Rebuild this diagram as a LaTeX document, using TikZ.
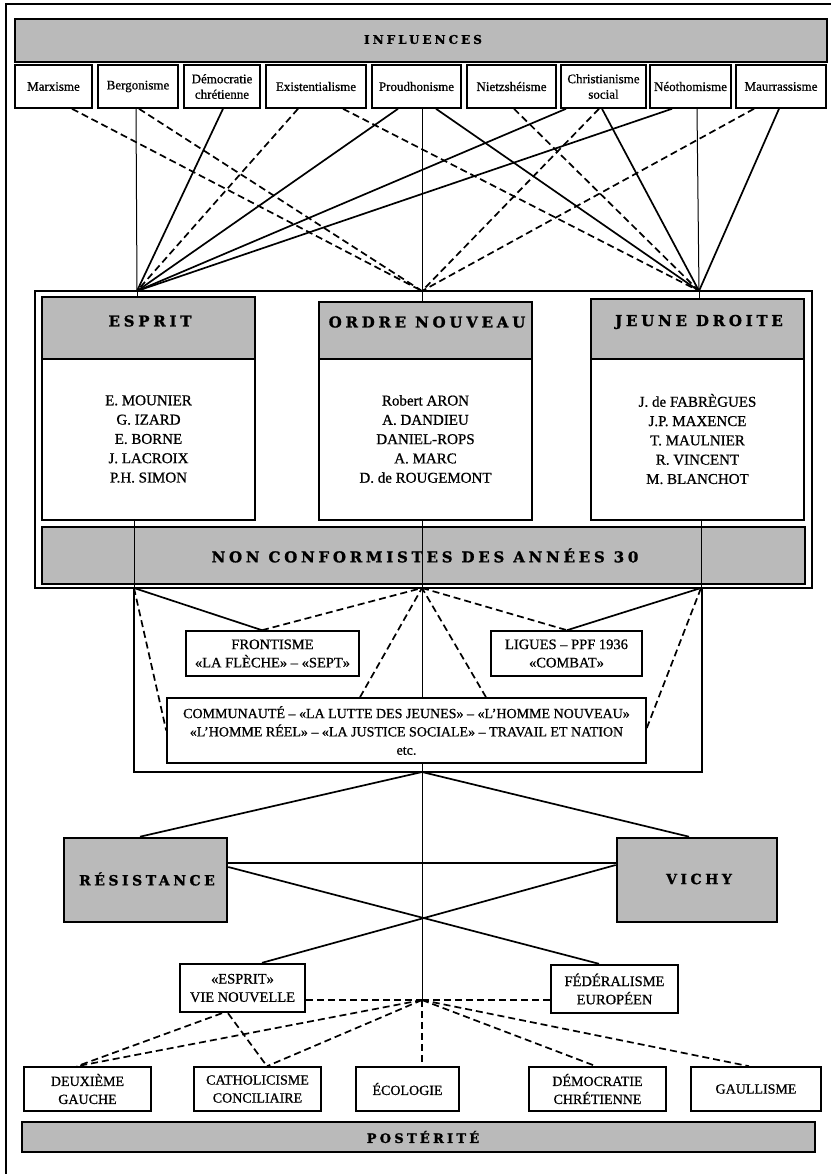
\documentclass[tikz,border=0pt]{standalone}
\usepackage{fontspec}
\setmainfont{Liberation Serif}[FakeBold=0.8]
\newfontfamily\hdrfont{DejaVu Serif}[LetterSpace=25, FakeBold=1.2]
\usetikzlibrary{calc}
\begin{document}
\begin{tikzpicture}[x=1pt,y=-1pt,
  every node/.style={inner sep=0pt, align=center},
  ibox/.style={draw, line width=1.6pt, fill=white, minimum height=43pt, font=\fontsize{13}{15.5}\selectfont},
  gbar/.style={draw, line width=1.8pt, fill=black!27},
  wbox/.style={draw, line width=1.6pt, fill=white},
  hdr/.style={font=\hdrfont\bfseries\fontsize{15}{17}\selectfont},
  names/.style={font=\fontsize{15}{19.3}\selectfont},
  lbox/.style={draw, line width=1.6pt, fill=white, font=\fontsize{14.5}{18.3}\selectfont},
  heavy/.style={line width=2.6pt},
  con/.style={line width=1.7pt},
  dcon/.style={line width=1.7pt, dash pattern=on 7pt off 4pt},
  spine/.style={line width=1pt},
]
\useasboundingbox (0,0) rectangle (834,1174);
\fill[white] (0,0) rectangle (834,1174);
% outer frame
\draw[line width=1.6pt] (6,1174) -- (6,4) -- (831,4);

% INFLUENCES
\node[gbar, minimum width=812pt, minimum height=43pt] (infl) at (421,40.5) {};
\node[hdr, font=\hdrfont\bfseries\fontsize{12}{14}\selectfont] (inflT) at (423,39.5) {INFLUENCES};

\node[ibox, minimum width=77pt] (marx) at (53.5,86.5) {Marxisme};
\node[ibox, minimum width=80pt] (berg) at (138,86.5) {Bergonisme};
\node[ibox, minimum width=76pt] (democ) at (222,86.5) {Démocratie\\chrétienne};
\node[ibox, minimum width=100pt] (exist) at (316,86.5) {Existentialisme};
\node[ibox, minimum width=89pt] (proud) at (416.5,86.5) {Proudhonisme};
\node[ibox, minimum width=89pt] (nietz) at (511.5,86.5) {Nietzshéisme};
\node[ibox, minimum width=85pt] (christ) at (603.5,86.5) {Christianisme\\social};
\node[ibox, minimum width=81pt] (neo) at (690.5,86.5) {Néothomisme};
\node[ibox, minimum width=90pt] (maur) at (781,86.5) {Maurrassisme};

% convergence points
\coordinate (Et) at (137,291);
\coordinate (Ot) at (422,291);
\coordinate (Jt) at (699,291);
\coordinate (Eb) at (134,588);
\coordinate (Ob) at (422,588);
\coordinate (Jb) at (701,588);
\coordinate (S) at (422,772);
\coordinate (P) at (422,1000);

% influence connectors
\draw[dcon] ([xshift=18.5pt]marx.south) -- (Ot);
\draw[spine] ([xshift=-2pt]berg.south) -- (Et);
\draw[dcon] ([xshift=1pt]berg.south) -- (Ot);
\draw[con] ([xshift=1pt]democ.south) -- (Et);
\draw[dcon] ([xshift=-18pt]exist.south) -- (Et);
\draw[dcon] ([xshift=27pt]exist.south) -- (Jt);
\draw[con] ([xshift=-18.5pt]proud.south) -- (Et);
\draw[spine] ([xshift=5.5pt]proud.south) -- (Ot);
\draw[con] ([xshift=19.5pt]proud.south) -- (Jt);
\draw[dcon] ([xshift=2.5pt]nietz.south) -- (Jt);
\draw[con] ([xshift=-37.5pt]christ.south) -- (Et);
\draw[dcon] ([xshift=-4.5pt]christ.south) -- (Ot);
\draw[con] ([xshift=-1.5pt]christ.south) -- (Jt);
\draw[con] ([xshift=-18.5pt]neo.south) -- (Et);
\draw[spine] ([xshift=6.5pt]neo.south) -- (Jt);
\draw[dcon] ([xshift=-27pt]maur.south) -- (Ot);
\draw[con] ([xshift=-2pt]maur.south) -- (Jt);

% non-conformist container
\node[draw, line width=1.6pt, minimum width=777pt, minimum height=297pt] (nc) at (423.5,439.5) {};

\node[gbar, minimum width=213pt, minimum height=62pt] (esph) at (148.5,328) {};
\node[wbox, minimum width=213pt, minimum height=161pt] (espb) at (148.5,439.5) {};
\node[hdr] (esphT) at (150,321) {ESPRIT};
\node[names] (espN) at (148.5,439) {E. MOUNIER\\G. IZARD\\E. BORNE\\J. LACROIX\\P.H. SIMON};

\node[gbar, minimum width=213pt, minimum height=57pt] (ordh) at (425.5,330.5) {};
\node[wbox, minimum width=213pt, minimum height=161pt] (ordb) at (425.5,439.5) {};
\node[hdr] (ordhT) at (427,322) {ORDRE NOUVEAU};
\node[names] (ordN) at (425.5,439) {Robert ARON\\A. DANDIEU\\DANIEL-ROPS\\A. MARC\\D. de ROUGEMONT};

\node[gbar, minimum width=213pt, minimum height=60pt] (jeuh) at (697.5,329) {};
\node[wbox, minimum width=213pt, minimum height=161pt] (jeub) at (697.5,439.5) {};
\node[hdr] (jeuhT) at (699,322) {JEUNE DROITE};
\node[names] (jeuN) at (697.5,439) {J. de FABRÈGUES\\J.P. MAXENCE\\T. MAULNIER\\R. VINCENT\\M. BLANCHOT};

\node[gbar, minimum width=763pt, minimum height=57pt] (ncbar) at (423.5,555.5) {};
\node[hdr] (ncbarT) at (425,555.5) {NON CONFORMISTES DES ANNÉES 30};

% verticals through the groups
\draw[spine] (Et) -- (Et |- esph.north);
\draw[spine] (Ot) -- (Ot |- ordh.north);
\draw[spine] (Jt) -- (Jt |- jeuh.north);
\draw[spine] (Eb |- espb.south) -- (Eb);
\draw[spine] (Ob |- ordb.south) -- (Ob);
\draw[spine] (Jb |- jeub.south) -- (Jb);

% lower container
\node[draw, line width=1.6pt, minimum width=568pt, minimum height=184pt] (low) at (418,680) {};
\node[lbox, minimum width=173pt, minimum height=45pt] (front) at (272.5,653.5) {FRONTISME\\«LA FLÈCHE» – «SEPT»};
\node[lbox, minimum width=151pt, minimum height=45pt] (ligues) at (566.5,653.5) {LIGUES – PPF 1936\\«COMBAT»};
\node[lbox, minimum width=479pt, minimum height=65pt, font=\fontsize{14}{18.3}\selectfont] (comm) at (406.5,730.5) {COMMUNAUTÉ – «LA LUTTE DES JEUNES» – «L’HOMME NOUVEAU»\\«L’HOMME RÉEL» – «LA JUSTICE SOCIALE» – TRAVAIL ET NATION\\etc.};

\draw[con] (Eb) -- ([xshift=-10.5pt]front.north);
\draw[dcon] ([xshift=-10.5pt]front.north) -- (Ob);
\draw[dcon] (Eb) -- (comm.west);
\draw[dcon] ([xshift=-46.5pt]comm.north) -- (Ob);
\draw[dcon] ([xshift=79.5pt]comm.north) -- (Ob);
\draw[dcon] (Ob) -- ([xshift=0.5pt]ligues.north);
\draw[con] ([xshift=0.5pt]ligues.north) -- (Jb);
\draw[dcon] ([yshift=2.5pt]comm.east) -- (Jb);
\draw[spine] (Ob) -- (Ob |- comm.north);
\draw[spine] (Ob |- comm.south) -- (P);

% war
\node[gbar, heavy, minimum width=163pt, minimum height=84pt] (res) at (145.5,880) {};
\node[hdr, font=\hdrfont\bfseries\fontsize{14}{16}\selectfont] (resT) at (147,879) {RÉSISTANCE};
\node[gbar, heavy, minimum width=160pt, minimum height=84pt] (vichy) at (697,880) {};
\node[hdr, font=\hdrfont\bfseries\fontsize{14}{16}\selectfont] (vichyT) at (699,879) {VICHY};

\draw[con] (S) -- ([xshift=-5.5pt]res.north);
\draw[con] (S) -- ([xshift=-8pt]vichy.north);
\draw[con] ([yshift=17pt]res.east) -- ([yshift=17pt]vichy.west);

\node[lbox, line width=2.4pt, minimum width=125pt, minimum height=48pt] (espv) at (242.5,988) {«ESPRIT»\\VIE NOUVELLE};
\node[lbox, line width=2.4pt, minimum width=127pt, minimum height=48pt] (fed) at (614.5,989) {FÉDÉRALISME\\EUROPÉEN};

\draw[con] ([yshift=13pt]res.east) -- ([xshift=-15.5pt]fed.north);
\draw[con] ([yshift=15pt]vichy.west) -- ([xshift=19.5pt]espv.north);

% posterity
\node[lbox, minimum width=127pt, minimum height=44pt, font=\fontsize{14}{18}\selectfont] (deux) at (87.5,1089) {DEUXIÈME\\GAUCHE};
\node[lbox, minimum width=127pt, minimum height=44pt, font=\fontsize{14}{18}\selectfont] (cath) at (257.5,1089) {CATHOLICISME\\CONCILIAIRE};
\node[lbox, minimum width=103pt, minimum height=44pt, font=\fontsize{14}{18}\selectfont] (eco) at (407.5,1089) {ÉCOLOGIE};
\node[lbox, minimum width=137pt, minimum height=44pt, font=\fontsize{14}{18}\selectfont] (demo) at (597.5,1089) {DÉMOCRATIE\\CHRÉTIENNE};
\node[lbox, minimum width=130pt, minimum height=44pt, font=\fontsize{14}{18}\selectfont] (gaul) at (756,1089) {GAULLISME};

\draw[dcon] ([yshift=-12pt]espv.east) -- (P);
\draw[dcon] (P) -- ([yshift=-11pt]fed.west);
\draw[dcon] (P) -- ([xshift=-10.5pt]deux.north);
\draw[dcon] ([xshift=-20.5pt]espv.south) -- ([xshift=-10.5pt]deux.north);
\draw[dcon] ([xshift=-14.5pt]espv.south) -- ([xshift=9.5pt]cath.north);
\draw[dcon] (P) -- ([xshift=9.5pt]cath.north);
\draw[dcon, line width=1.2pt] (P) -- (P |- eco.north);
\draw[dcon] (P) -- ([xshift=-1.5pt]demo.north);
\draw[dcon] (P) -- ([xshift=-7pt]gaul.north);

\node[gbar, line width=2.4pt, minimum width=793pt, minimum height=30pt] (post) at (418.5,1137) {};
\node[hdr, font=\hdrfont\bfseries\fontsize{13}{15}\selectfont] (postT) at (423,1137) {POSTÉRITÉ};
\end{tikzpicture}
\end{document}
